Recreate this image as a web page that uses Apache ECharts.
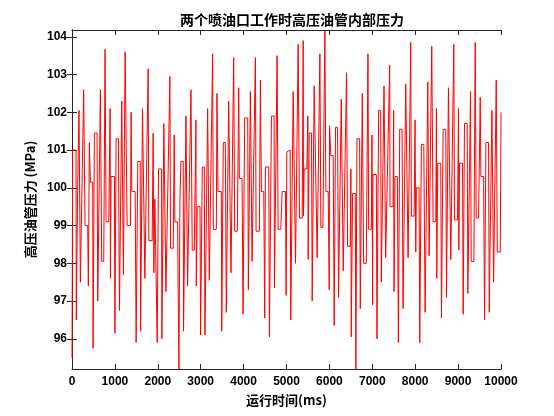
<!DOCTYPE html>
<html>
<head>
<meta charset="utf-8">
<script src="https://cdn.jsdelivr.net/npm/echarts@6/dist/echarts.min.js"></script>
<style>html,body{margin:0;padding:0;background:#fff}#c{width:554px;height:416px}</style>
</head>
<body>
<div id="c"></div>
<script>
// pressure trace: [time ms, pressure MPa]
const seg1 = [[0,95.5],[16,101.0],[93,101.0],[100,96.5],[132,100.0],[163,102.05],[195,97.5],[234,97.5],[272,102.6],[304,99.0],[366,99.0],[381,97.4],[405,101.2],[428,100.15],[483,100.15],[491,95.75],[522,101.45],[584,101.45],[600,97.0],[662,102.6],[693,98.05],[740,98.05],[771,103.67],[794,99.1],[857,99.1],[888,102.1],[896,97.6],[911,100.3],[989,100.3],[1000,96.15],[1028,101.3],[1082,101.3],[1106,96.75],[1160,102.3],[1199,97.7],[1238,103.6],[1285,99.0],[1363,99.0],[1378,102.0],[1394,99.9],[1472,99.9],[1495,95.9],[1534,100.7],[1589,100.7],[1600,96.2],[1643,102.1]];
const seg2 = [[1698,97.6],[1775,103.15],[1791,98.6],[1869,98.6],[1892,101.45],[1908,97.75],[1931,99.7],[1970,99.7],[1986,95.9],[2017,100.5],[2087,100.5],[2095,96.0],[2141,101.7],[2189,97.25],[2282,102.95],[2297,98.4],[2360,98.4],[2383,101.4],[2399,99.1],[2461,99.1],[2492,95.2],[2515,99.6],[2539,100.7],[2593,100.7],[2600,96.2],[2656,101.9],[2694,97.4],[2773,102.6],[2803,98.35],[2850,98.35],[2889,101.8],[2897,97.4],[2920,99.5],[2983,99.5],[2998,96.1],[3037,100.55],[3084,100.55],[3099,96.1],[3162,102.1],[3200,97.55],[3278,103.55],[3294,98.9],[3340,98.9]];
const seg3 = [[3364,98.9],[3379,102.5],[3403,99.9],[3481,99.9],[3490,96.2],[3527,101.2],[3574,101.2],[3597,96.7],[3652,102.3],[3706,97.75],[3769,103.45],[3792,98.85],[3854,98.85],[3886,102.65],[3901,100.25],[3964,100.25],[3987,96.65],[4026,101.85],[4096,101.85],[4111,97.3],[4158,102.55],[4197,98.05],[4275,103.45],[4291,98.85],[4368,98.85],[4392,102.85],[4415,99.9],[4470,99.9],[4493,96.55],[4508,100.55],[4586,100.55],[4602,96.05],[4649,101.9],[4711,101.9],[4719,97.35],[4781,103.5],[4805,98.9],[4867,98.9],[4898,99.9],[4976,99.9],[4991,97.15],[5007,100.95]];
const seg4 = [[5022,101.0],[5085,101.0],[5100,96.5],[5155,102.55],[5194,102.55],[5210,98.0],[5272,103.8],[5303,99.2],[5365,99.2],[5389,103.9],[5396,99.25],[5412,100.5],[5474,100.5],[5498,101.9],[5505,98.1],[5529,101.45],[5583,101.45],[5599,97.0],[5645,102.7],[5684,102.7],[5715,98.15],[5778,103.55],[5801,98.95],[5848,98.95],[5894,104.15],[5918,99.9],[5972,99.9],[5996,97.3],[6003,101.65],[6034,100.85],[6089,100.85],[6112,96.35],[6143,101.6],[6190,101.6],[6213,97.1],[6276,102.35],[6322,97.8],[6400,103.05],[6424,98.45],[6486,98.45],[6501,100.5],[6509,96.05],[6540,99.85],[6603,99.85],[6618,95.2],[6642,101.3],[6704,101.3]];
const seg5 = [[6720,96.8],[6767,102.5],[6798,98.0],[6860,98.0],[6899,103.55],[6915,98.9],[6977,98.9],[6992,101.4],[7008,96.9],[7016,100.35],[7094,100.35],[7109,96.0],[7148,102.05],[7195,102.05],[7210,97.5],[7273,102.7],[7311,98.15],[7405,103.25],[7413,99.5],[7483,99.5],[7498,102.05],[7506,97.25],[7530,100.3],[7584,100.3],[7608,95.9],[7639,101.55],[7694,101.55],[7717,96.8],[7779,102.75],[7834,98.15],[7896,103.85],[7911,99.25],[7974,99.25],[7997,101.8],[8013,98.3],[8028,100.0],[8091,100.0],[8106,95.9],[8145,101.15],[8200,101.15],[8231,96.7],[8293,102.8],[8324,98.2]];
const seg6 = [[8386,103.75],[8417,99.1],[8480,99.1],[8495,102.1],[8503,97.6],[8526,100.65],[8596,100.65],[8612,96.55],[8651,101.55],[8713,101.55],[8729,97.1],[8775,102.65],[8830,98.1],[8900,103.8],[8916,99.15],[8986,99.15],[9009,102.1],[9017,98.35],[9033,100.65],[9103,100.65],[9118,96.65],[9149,101.7],[9212,101.7],[9227,97.2],[9290,102.55],[9305,98.05],[9368,98.05],[9399,103.85],[9422,99.2],[9477,99.2],[9516,102.4],[9531,100.3],[9594,100.3],[9617,96.5],[9648,101.2],[9710,101.2],[9726,96.7],[9788,102.05],[9827,97.5],[9889,102.85],[9913,98.3],[9983,98.3],[10000,102.0]];

const xTicks = [0,1000,2000,3000,4000,5000,6000,7000,8000,9000,10000];
const yTicks = [96,97,98,99,100,101,102,103,104];
const xRange = [0, 10000];
const yRange = [95.2, 104.18];

const trace = [].concat(seg1, seg2, seg3, seg4, seg5, seg6);

const chart = echarts.init(document.getElementById('c'), null, {renderer:'canvas'});
const axisColor = '#262626';
const lblFont = {color:'#000', fontSize:12, fontWeight:'bold', fontFamily:'Liberation Sans, Arial, sans-serif'};
chart.setOption({
  backgroundColor:'#fff',
  animation:false,
  title:{
    text:'两个喷油口工作时高压油管内部压力',
    left:287, top:8, textAlign:'center',
    textStyle:{fontSize:14, fontWeight:'bold', color:'#000', fontFamily:'Noto Sans CJK SC, sans-serif'}
  },
  grid:{left:72, right:53, top:30, bottom:47, containLabel:false},
  xAxis:[{
    type:'value', min:xRange[0], max:xRange[1], interval:1000,
    name:'运行时间(ms)', nameLocation:'middle', nameGap:25,
    nameTextStyle:{fontSize:13, fontWeight:'bold', color:'#000', fontFamily:'Noto Sans CJK SC, sans-serif'},
    axisLine:{show:true, lineStyle:{color:axisColor, width:1}},
    axisTick:{show:true, inside:true, length:5, lineStyle:{color:axisColor}},
    axisLabel:Object.assign({margin:7, customValues:xTicks, formatter:function(v){return String(v);}}, lblFont),
    splitLine:{show:false}
  },{
    type:'value', position:'top', min:xRange[0], max:xRange[1], interval:1000,
    axisLine:{show:true, lineStyle:{color:axisColor, width:1}},
    axisTick:{show:true, inside:true, length:5, lineStyle:{color:axisColor}},
    axisLabel:{show:false}, splitLine:{show:false}
  }],
  yAxis:[{
    type:'value', min:yRange[0], max:yRange[1],
    name:'高压油管压力 (MPa)', nameLocation:'middle', nameGap:30, nameRotate:90,
    nameTextStyle:{fontSize:13, fontWeight:'bold', color:'#000', fontFamily:'Noto Sans CJK SC, sans-serif'},
    axisLine:{show:true, lineStyle:{color:axisColor, width:1}},
    axisTick:{show:true, inside:true, length:5, customValues:yTicks, lineStyle:{color:axisColor}},
    axisLabel:Object.assign({margin:5, customValues:yTicks, formatter:function(v){return String(v);}}, lblFont),
    splitLine:{show:false}
  },{
    type:'value', position:'right', min:yRange[0], max:yRange[1],
    axisLine:{show:true, lineStyle:{color:axisColor, width:1}},
    axisTick:{show:true, inside:true, length:5, customValues:yTicks, lineStyle:{color:axisColor}},
    axisLabel:{show:false}, splitLine:{show:false}
  }],
  series:[{
    type:'line', data:trace, showSymbol:false, symbol:'none',
    lineStyle:{color:'#ff0000', width:1}, clip:true
  }]
});
</script>
</body>
</html>
